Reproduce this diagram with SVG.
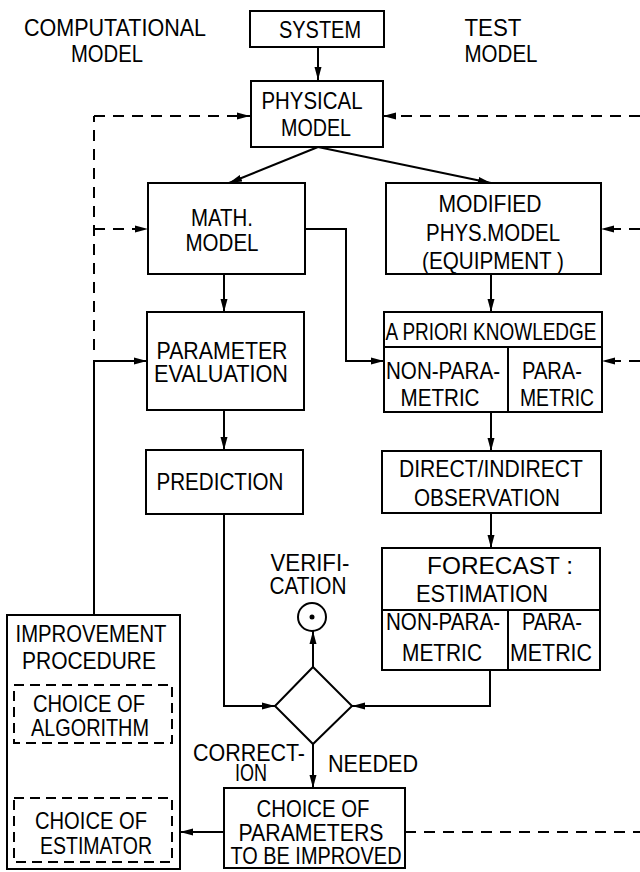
<svg xmlns="http://www.w3.org/2000/svg" width="640" height="872" viewBox="0 0 640 872">
<style>
text{font-family:"Liberation Sans",Arial,sans-serif;font-size:24px;fill:#000;text-anchor:middle;}
.box{fill:#fff;stroke:#000;stroke-width:2;}
.dbox{fill:none;stroke:#000;stroke-width:2;stroke-dasharray:10 6;}
.ln{fill:none;stroke:#000;stroke-width:2;}
.dl{fill:none;stroke:#000;stroke-width:2;stroke-dasharray:11 8;}
.ar{marker-end:url(#ah);}
</style>
<defs>
<marker id="ah" markerUnits="userSpaceOnUse" markerWidth="14" markerHeight="8" refX="13" refY="4" orient="auto">
<path d="M0,0.5 L13,4 L0,7.5 z" fill="#000"/>
</marker>
</defs>
<rect width="640" height="872" fill="#fff"/>
<g id="connectors">
<line class="ln ar" x1="318" y1="47" x2="318" y2="80"/>
<line class="ln ar" x1="318" y1="147" x2="229" y2="183"/>
<line class="ln ar" x1="318" y1="147" x2="491" y2="183"/>
<line class="ln ar" x1="224" y1="274" x2="224" y2="312"/>
<line class="ln ar" x1="491" y1="274" x2="491" y2="312"/>
<polyline class="ln ar" points="305,229 346,229 346,361 384,361"/>
<line class="ln ar" x1="224" y1="410" x2="224" y2="450"/>
<line class="ln ar" x1="491" y1="412" x2="491" y2="451"/>
<line class="ln ar" x1="491" y1="513" x2="491" y2="548"/>
<polyline class="ln ar" points="224,514 224,706 275,706"/>
<polyline class="ln ar" points="490,670 490,706 352,706"/>
<line class="ln ar" x1="313" y1="667" x2="313" y2="631"/>
<line class="ln ar" x1="313" y1="744" x2="313" y2="788"/>
<line class="ln ar" x1="224" y1="832" x2="180" y2="832"/>
<polyline class="ln ar" points="94,615 94,361 147,361"/>
<polyline class="dl" points="94,350 94,116"/>
<line class="dl ar" x1="94" y1="116" x2="250" y2="116"/>
<line class="dl ar" x1="94" y1="229" x2="148" y2="229"/>
<line class="dl ar" x1="640" y1="116" x2="383" y2="116"/>
<line class="dl ar" x1="640" y1="229" x2="601" y2="229"/>
<line class="dl ar" x1="640" y1="361" x2="602" y2="361"/>
<line class="dl" x1="405" y1="832" x2="640" y2="832"/>
<line class="dl ar" x1="93" y1="798" x2="93" y2="743"/>
</g>
<g id="label-computational">
<text x="115" y="36" textLength="182" lengthAdjust="spacingAndGlyphs">COMPUTATIONAL</text>
<text x="107" y="62" textLength="72" lengthAdjust="spacingAndGlyphs">MODEL</text>
</g>
<g id="label-test">
<text x="493" y="36" textLength="57" lengthAdjust="spacingAndGlyphs">TEST</text>
<text x="501" y="62" textLength="73" lengthAdjust="spacingAndGlyphs">MODEL</text>
</g>
<g id="system">
<rect class="box" x="250" y="11" width="134" height="36"/>
<text x="320" y="38" textLength="82" lengthAdjust="spacingAndGlyphs">SYSTEM</text>
</g>
<g id="physical-model">
<rect class="box" x="251" y="81" width="132" height="66"/>
<text x="312" y="109" textLength="101" lengthAdjust="spacingAndGlyphs">PHYSICAL</text>
<text x="316" y="136" textLength="70" lengthAdjust="spacingAndGlyphs">MODEL</text>
</g>
<g id="math-model">
<rect class="box" x="148" y="183" width="157" height="91"/>
<text x="222" y="226" textLength="62" lengthAdjust="spacingAndGlyphs">MATH.</text>
<text x="222" y="251" textLength="73" lengthAdjust="spacingAndGlyphs">MODEL</text>
</g>
<g id="modified-phys-model">
<rect class="box" x="386" y="183" width="215" height="91"/>
<text x="490" y="212" textLength="103" lengthAdjust="spacingAndGlyphs">MODIFIED</text>
<text x="493" y="241" textLength="134" lengthAdjust="spacingAndGlyphs">PHYS.MODEL</text>
<text x="493" y="269" textLength="142" lengthAdjust="spacingAndGlyphs">(EQUIPMENT )</text>
</g>
<g id="parameter-evaluation">
<rect class="box" x="147" y="312" width="157" height="98"/>
<text x="222" y="359" textLength="131" lengthAdjust="spacingAndGlyphs">PARAMETER</text>
<text x="221" y="382" textLength="134" lengthAdjust="spacingAndGlyphs">EVALUATION</text>
</g>
<g id="a-priori-knowledge">
<rect class="box" x="384" y="312" width="218" height="100"/>
<line class="ln" x1="384" y1="347" x2="602" y2="347"/>
<line class="ln" x1="508" y1="347" x2="508" y2="412"/>
<text x="491" y="340" textLength="211" lengthAdjust="spacingAndGlyphs">A PRIORI KNOWLEDGE</text>
<text x="443" y="379" textLength="114" lengthAdjust="spacingAndGlyphs">NON-PARA-</text>
<text x="440" y="406" textLength="79" lengthAdjust="spacingAndGlyphs">METRIC</text>
<text x="552" y="379" textLength="60" lengthAdjust="spacingAndGlyphs">PARA-</text>
<text x="557" y="406" textLength="74" lengthAdjust="spacingAndGlyphs">METRIC</text>
</g>
<g id="prediction">
<rect class="box" x="146" y="450" width="157" height="64"/>
<text x="220" y="490" textLength="127" lengthAdjust="spacingAndGlyphs">PREDICTION</text>
</g>
<g id="observation">
<rect class="box" x="382" y="451" width="219" height="62"/>
<text x="491" y="477" textLength="184" lengthAdjust="spacingAndGlyphs">DIRECT/INDIRECT</text>
<text x="487" y="506" textLength="146" lengthAdjust="spacingAndGlyphs">OBSERVATION</text>
</g>
<g id="forecast-estimation">
<rect class="box" x="382" y="548" width="218" height="122"/>
<line class="ln" x1="382" y1="610" x2="600" y2="610"/>
<line class="ln" x1="508" y1="610" x2="508" y2="670"/>
<text x="500" y="574" textLength="146" lengthAdjust="spacingAndGlyphs">FORECAST :</text>
<text x="482" y="602" textLength="132" lengthAdjust="spacingAndGlyphs">ESTIMATION</text>
<text x="443" y="630" textLength="114" lengthAdjust="spacingAndGlyphs">NON-PARA-</text>
<text x="442" y="661" textLength="80" lengthAdjust="spacingAndGlyphs">METRIC</text>
<text x="552" y="630" textLength="60" lengthAdjust="spacingAndGlyphs">PARA-</text>
<text x="551" y="661" textLength="82" lengthAdjust="spacingAndGlyphs">METRIC</text>
</g>
<g id="verification">
<text x="310" y="571" textLength="79" lengthAdjust="spacingAndGlyphs">VERIFI-</text>
<text x="308" y="594" textLength="77" lengthAdjust="spacingAndGlyphs">CATION</text>
<circle cx="312" cy="617" r="14" fill="#fff" stroke="#000" stroke-width="2"/>
<circle cx="312" cy="617" r="2.5" fill="#000"/>
</g>
<g id="decision">
<polygon class="box" points="313,667 352,706 313,744 275,706"/>
</g>
<g id="correction-needed">
<text x="249" y="761" textLength="112" lengthAdjust="spacingAndGlyphs">CORRECT-</text>
<text x="251" y="781" textLength="32" lengthAdjust="spacingAndGlyphs">ION</text>
<text x="373" y="772" textLength="90" lengthAdjust="spacingAndGlyphs">NEEDED</text>
</g>
<g id="choice-of-parameters">
<rect class="box" x="224" y="788" width="181" height="80"/>
<text x="313" y="817" textLength="113" lengthAdjust="spacingAndGlyphs">CHOICE OF</text>
<text x="311" y="841" textLength="145" lengthAdjust="spacingAndGlyphs">PARAMETERS</text>
<text x="316" y="864" textLength="171" lengthAdjust="spacingAndGlyphs">TO BE IMPROVED</text>
</g>
<g id="improvement-procedure">
<rect class="box" x="7" y="615" width="173" height="254"/>
<text x="91" y="642" textLength="151" lengthAdjust="spacingAndGlyphs">IMPROVEMENT</text>
<text x="89" y="669" textLength="134" lengthAdjust="spacingAndGlyphs">PROCEDURE</text>
</g>
<g id="choice-of-algorithm">
<rect class="dbox" x="14" y="685" width="158" height="58"/>
<text x="89" y="712" textLength="112" lengthAdjust="spacingAndGlyphs">CHOICE OF</text>
<text x="90" y="736" textLength="118" lengthAdjust="spacingAndGlyphs">ALGORITHM</text>
</g>
<g id="choice-of-estimator">
<rect class="dbox" x="14" y="798" width="158" height="64"/>
<text x="91" y="829" textLength="112" lengthAdjust="spacingAndGlyphs">CHOICE OF</text>
<text x="96" y="854" textLength="112" lengthAdjust="spacingAndGlyphs">ESTIMATOR</text>
</g>
</svg>
